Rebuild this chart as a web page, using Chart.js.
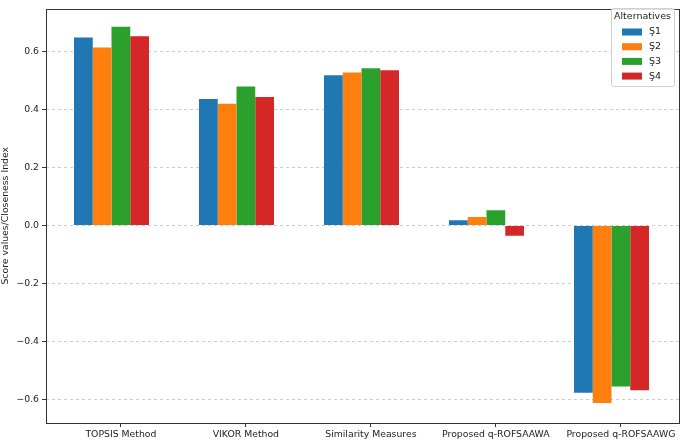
<!DOCTYPE html>
<html lang="en">
<head>
  <meta charset="UTF-8">
  <title>Score values</title>
  <script src="https://cdn.jsdelivr.net/npm/chart.js"></script>
  <style>
    body { margin: 0; background: #fff; }
    #wrap { width: 685px; height: 442px; }
  </style>
</head>
<body>
  <div id="wrap"><canvas id="scoreChart" width="685" height="442"></canvas></div>

  <script>
    const methods = ['TOPSIS Method', 'VIKOR Method', 'Similarity Measures', 'Proposed q-ROFSAAWA', 'Proposed q-ROFSAAWG'];
    const alternatives = ['Ş1', 'Ş2', 'Ş3', 'Ş4'];
    const s1 = [0.648, 0.436, 0.518, 0.018, -0.577];
    const s2 = [0.614, 0.420, 0.528, 0.029, -0.612];
    const s3 = [0.685, 0.479, 0.542, 0.053, -0.555];
    const s4 = [0.653, 0.443, 0.535, -0.035, -0.568];
    const yTicks = [-0.6, -0.4, -0.2, 0.0, 0.2, 0.4, 0.6];
    const colors = ['#1f77b4', '#ff7f0e', '#2ca02c', '#d62728'];

    // the original ticks sit half a bar right of each group's centre
    const tickShift = 0.075;
    const font = { family: 'DejaVu Sans', size: 9.3 };
    const fmt = v => v.toFixed(1).replace('-', '\u2212');

    // plot frame on all four sides, like matplotlib
    const frame = {
      id: 'frame',
      afterDatasetsDraw(chart) {
        const a = chart.chartArea, ctx = chart.ctx;
        ctx.save();
        ctx.strokeStyle = '#333';
        ctx.lineWidth = 1;
        ctx.strokeRect(Math.round(a.left) + 0.5, Math.round(a.top) + 0.5,
          Math.round(a.right - a.left), Math.round(a.bottom - a.top));
        ctx.restore();
      }
    };

    // legend drawn inside the plot, top right
    const innerLegend = {
      id: 'innerLegend',
      afterDraw(chart) {
        const ctx = chart.ctx;
        const x = 611, y = 8, w = 63, h = 78;
        ctx.save();
        ctx.fillStyle = 'rgba(255,255,255,0.85)';
        ctx.strokeStyle = '#d0d0d0';
        ctx.lineWidth = 1;
        ctx.beginPath();
        ctx.roundRect(x + 0.5, y + 0.5, w, h, 2);
        ctx.fill();
        ctx.stroke();
        ctx.font = '9.5px "DejaVu Sans"';
        ctx.fillStyle = '#222';
        ctx.textAlign = 'center';
        ctx.textBaseline = 'middle';
        ctx.fillText('Alternatives', x + w / 2, y + 9);
        ctx.textAlign = 'left';
        chart.data.datasets.forEach((ds, i) => {
          const cy = y + 24 + i * 14.7;
          ctx.fillStyle = ds.backgroundColor;
          ctx.fillRect(x + 11, cy - 3.5, 20, 7);
          ctx.fillStyle = '#222';
          ctx.fillText(ds.label, x + 38, cy);
        });
        ctx.restore();
      }
    };

    const series = [s1, s2, s3, s4];
    const ctx = document.getElementById('scoreChart').getContext('2d');
    new Chart(ctx, {
      type: 'bar',
      data: {
        datasets: series.map((vals, i) => ({
          label: alternatives[i],
          data: vals.map((v, j) => ({ x: j, y: v })),
          backgroundColor: colors[i],
          borderWidth: 0,
          categoryPercentage: 0.6,
          barPercentage: 1.0
        }))
      },
      options: {
        responsive: false,
        animation: false,
        layout: { padding: { top: 4, right: 6, left: 0, bottom: 0 } },
        plugins: {
          legend: { display: false },
          tooltip: { enabled: false }
        },
        scales: {
          x: {
            type: 'linear',
            offset: false,
            min: -0.524,
            max: 4.54,
            afterBuildTicks: s => { s.ticks = methods.map((m, i) => ({ value: i + tickShift })); },
            afterFit: s => { s.height = 19; },
            ticks: {
              callback: v => methods[Math.round(v - tickShift)],
              autoSkip: false,
              maxRotation: 0,
              padding: 2,
              color: '#222',
              font: font
            },
            grid: { offset: false, drawOnChartArea: false, tickLength: 4, tickColor: '#333' },
            border: { display: false }
          },
          y: {
            min: -0.681,
            max: 0.748,
            afterBuildTicks: s => { s.ticks = yTicks.map(v => ({ value: v })); },
            afterFit: s => { s.width = 46; },
            ticks: {
              callback: v => fmt(v),
              padding: 3,
              color: '#222',
              font: font
            },
            grid: {
              color: 'rgba(176,176,176,0.8)',
              lineWidth: 0.8,
              tickLength: 4,
              tickColor: '#333',
              tickBorderDash: [],
              tickWidth: 1
            },
            border: { display: false, dash: [3, 3] },
            title: {
              display: true,
              text: 'Score values/Closeness Index',
              color: '#222',
              font: font,
              padding: { top: 0, bottom: 3 }
            }
          }
        }
      },
      plugins: [frame, innerLegend]
    });
  </script>
</body>
</html>
